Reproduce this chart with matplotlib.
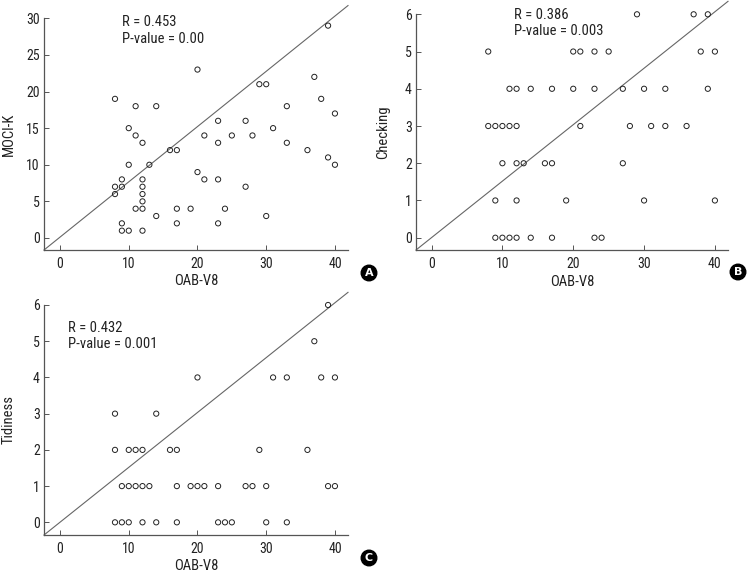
import matplotlib
matplotlib.use("Agg")
import matplotlib.pyplot as plt
from matplotlib import font_manager as fm

# pick a narrow sans face if one is installed
installed = {f.name for f in fm.fontManager.ttflist}
narrow = None
for cand in ['Liberation Sans Narrow', 'Roboto Condensed', 'Open Sans Condensed',
             'Noto Sans Condensed', 'DejaVu Sans Condensed']:
    if cand in installed:
        narrow = cand
        break
size_scale = 1.0
if narrow is None:
    dv_cond = [f for f in fm.fontManager.ttflist
               if f.name == 'DejaVu Sans' and str(f.stretch) in ('condensed', '300')]
    if dv_cond:
        narrow = 'DejaVu Sans'
        plt.rcParams['font.stretch'] = 'condensed'
        size_scale = 0.85
    else:
        narrow = 'Liberation Sans'
        size_scale = 0.9
plt.rcParams['font.family'] = [narrow, 'DejaVu Sans']

# Panel A: OAB-V8 vs MOCI-K
a_x = [39, 20, 37, 29, 30, 8, 38, 11, 14, 33, 40, 23, 27, 10, 31, 11, 21, 25, 28,
       12, 23, 33, 16, 17, 36, 39, 10, 13, 40, 20, 9, 12, 21, 23, 8, 9, 12, 27,
       8, 12, 12, 11, 12, 17, 19, 24, 14, 30, 9, 17, 23, 9, 10, 12]
a_y = [29, 23, 22, 21, 21, 19, 19, 18, 18, 18, 17, 16, 16, 15, 15, 14, 14, 14, 14,
       13, 13, 13, 12, 12, 12, 11, 10, 10, 10, 9, 8, 8, 8, 8, 7, 7, 7, 7,
       6, 6, 5, 4, 4, 4, 4, 4, 3, 3, 2, 2, 2, 1, 1, 1]

# Panel B: OAB-V8 vs Checking
b_x = [29, 37, 39,
       8, 20, 21, 23, 25, 38, 40,
       11, 12, 14, 17, 20, 23, 27, 30, 33, 39,
       8, 9, 10, 11, 12, 21, 28, 31, 33, 36,
       10, 12, 13, 16, 17, 27,
       9, 12, 19, 30, 40,
       9, 10, 11, 12, 14, 17, 23, 24]
b_y = [6, 6, 6,
       5, 5, 5, 5, 5, 5, 5,
       4, 4, 4, 4, 4, 4, 4, 4, 4, 4,
       3, 3, 3, 3, 3, 3, 3, 3, 3, 3,
       2, 2, 2, 2, 2, 2,
       1, 1, 1, 1, 1,
       0, 0, 0, 0, 0, 0, 0, 0]

# Panel C: OAB-V8 vs Tidiness
c_x = [39, 37,
       20, 31, 33, 38, 40,
       8, 14,
       8, 10, 11, 12, 16, 17, 29, 36,
       9, 10, 11, 12, 13, 17, 19, 20, 21, 23, 27, 28, 30, 39, 40,
       8, 9, 10, 12, 14, 17, 23, 24, 25, 30, 33]
c_y = [6, 5,
       4, 4, 4, 4, 4,
       3, 3,
       2, 2, 2, 2, 2, 2, 2, 2,
       1, 1, 1, 1, 1, 1, 1, 1, 1, 1, 1, 1, 1, 1, 1,
       0, 0, 0, 0, 0, 0, 0, 0, 0, 0, 0]

x_ticks = [0, 10, 20, 30, 40]

W, H = 747, 572
fig = plt.figure(figsize=(W / 100, H / 100), dpi=100)


def px_axes(left, top, right, bottom):
    return fig.add_axes([left / W, 1 - bottom / H, (right - left) / W, (bottom - top) / H])


def style(ax, xlim, ylim, yticks, ylabel, ylab_x, stats, stats_pos):
    ax.set_xlim(*xlim)
    ax.set_ylim(*ylim)
    ax.set_xticks(x_ticks)
    ax.set_yticks(yticks)
    for s in ['top', 'right']:
        ax.spines[s].set_visible(False)
    for s in ['left', 'bottom']:
        ax.spines[s].set_color('#555555')
        ax.spines[s].set_linewidth(0.9)
    ax.tick_params(direction='in', length=3.5, width=0.7, color='#555555',
                   labelsize=10 * size_scale, labelcolor='#222222')
    ax.tick_params(axis='x', pad=5)
    ax.tick_params(axis='y', pad=3)
    ax.set_xlabel('OAB-V8', fontsize=10.5 * size_scale, color='#222222')
    ax.set_ylabel(ylabel, fontsize=10.5 * size_scale, color='#222222')
    ax.xaxis.set_label_coords(0.5, -0.105)
    ax.yaxis.set_label_coords(ylab_x, 0.5)
    ax.plot([0, 1.0], [0, 1.055], transform=ax.transAxes, color='#666666',
            lw=0.8, clip_on=False)
    ax.text(stats_pos[0], stats_pos[1], stats, transform=ax.transData,
            fontsize=10.5 * size_scale, color='#222222', va='top', ha='left',
            linespacing=1.2)


axA = px_axes(44, 18.3, 348, 250)
axA.scatter(a_x, a_y, s=14, facecolors='none', edgecolors='#222222', linewidths=0.7,
            clip_on=False, zorder=3)
style(axA, (-2.33, 41.9), (-1.64, 30), [0, 5, 10, 15, 20, 25, 30], 'MOCI-K', -0.093,
      'R = 0.453\nP-value = 0.00', (9.0, 30.4))

axB = px_axes(416, 14.3, 728, 250)
axB.scatter(b_x, b_y, s=14, facecolors='none', edgecolors='#222222', linewidths=0.7,
            clip_on=False, zorder=3)
style(axB, (-2.2, 41.85), (-0.33, 6), [0, 1, 2, 3, 4, 5, 6], 'Checking', -0.083,
      'R = 0.386\nP-value = 0.003', (11.7, 6.17))

axC = px_axes(44, 305, 348, 535)
axC.scatter(c_x, c_y, s=14, facecolors='none', edgecolors='#222222', linewidths=0.7,
            clip_on=False, zorder=3)
style(axC, (-2.33, 41.9), (-0.35, 6), [0, 1, 2, 3, 4, 5, 6], 'Tidiness', -0.093,
      'R = 0.432\nP-value = 0.001', (1.2, 5.55))

for letter, (bx, by) in zip(['A', 'B', 'C'], [(369, 273), (738, 272), (369, 558)]):
    fig.text(bx / W, 1 - by / H, letter, color='white', fontsize=8, fontweight='bold',
             ha='center', va='center', family='DejaVu Sans', stretch='normal',
             bbox=dict(boxstyle='circle,pad=0.25', fc='black', ec='black'))

fig.savefig('out.png', dpi=100)
